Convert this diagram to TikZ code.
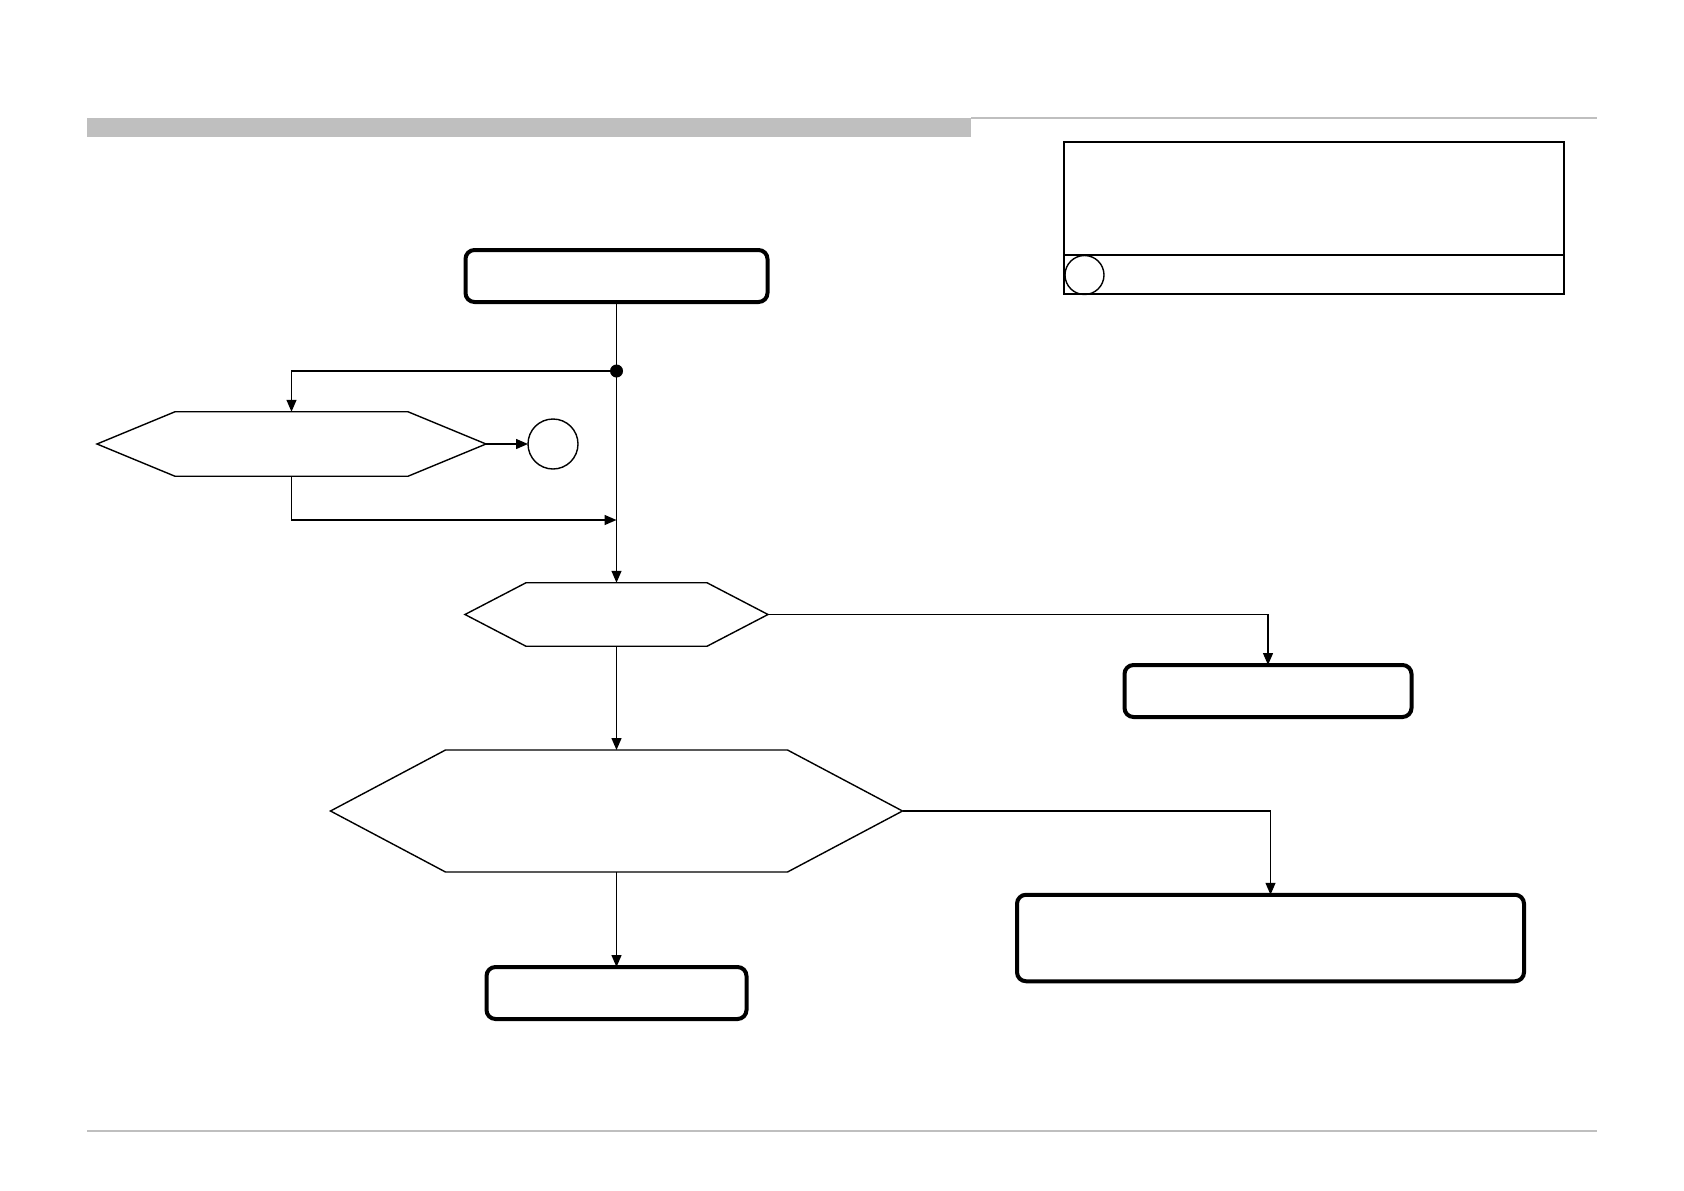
\documentclass[tikz,border=0pt]{standalone}
\usepackage{xcolor}
\usepackage{tikz}
\usetikzlibrary{arrows.meta,positioning,calc}

% outline of a pointed decision box, drawn over a plain node
\newcommand{\drawhex}[2]{%
  \draw[hexline] (#1.west) -- ($(#1.north west)+(#2,0)$) -- ($(#1.north east)+(-#2,0)$)
    -- (#1.east) -- ($(#1.south east)+(-#2,0)$) -- ($(#1.south west)+(#2,0)$) -- cycle;}

\begin{document}
\begin{tikzpicture}[
    x=1pt, y=-1pt,
    >={Triangle[length=12pt,width=10pt]},
    stepbox/.style={draw, line width=4pt, rounded corners=9pt, minimum width=#1, minimum height=52pt, inner sep=0pt, outer sep=0pt},
    stepbox/.default=300pt,
    hexbox/.style={minimum width=#1, inner sep=0pt, outer sep=0pt},
    hexline/.style={line width=1.4pt},
    flow/.style={->, line width=1.4pt},
    conn/.style={draw, circle, line width=1.4pt, minimum size=#1, inner sep=0pt, outer sep=0pt},
    rule/.style={gray!50, line width=#1}
  ]
    \useasboundingbox (0,0) rectangle (1684,1191);

    % page header and footer rules
    \fill[gray!50] (87,118) rectangle (971,137);
    \draw[rule=2pt] (971,118) -- (1597,118);
    \draw[rule=1.2pt] (87,1131) -- (1597,1131);

    % legend
    \node[draw, line width=2pt, minimum width=500pt, minimum height=152pt, inner sep=0pt, outer sep=0pt] (legend) at (1314,218) {};
    \draw[line width=2pt] ($(legend.south west)+(0,-39)$) -- ($(legend.south east)+(0,-39)$);
    \node[conn=39pt] (legdot) at (1084.5,275) {};

    % main flow
    \node[stepbox=302pt] (start) at (616.5,276) {};
    \node[hexbox=389pt, minimum height=64.5pt] (chk1) at (291.5,444) {};
    \node[conn=50pt] (con1) at (553,444) {};
    \node[hexbox=303pt, minimum height=63.5pt] (chk2) at (616.5,614.5) {};
    \node[hexbox=572pt, minimum height=122pt] (chk3) at (616.5,811) {};
    \node[stepbox=287pt] (res1) at (1268,691) {};
    \node[stepbox=507pt, minimum height=86.5pt] (res2) at (1270.5,938) {};
    \node[stepbox=260pt] (res3) at (616.5,993) {};

    \drawhex{chk1}{78}
    \drawhex{chk2}{61}
    \drawhex{chk3}{115}

    \coordinate (split) at (616.5,371);
    \coordinate (merge) at (616.5,520);

    \draw[flow] (start.south) -- (chk2.north);
    \draw[flow] (split) -| (chk1.north);
    \draw[flow] (chk1.south) |- (merge);
    \draw[flow] (chk1.east) -- (con1);
    \fill (split) circle (6.5pt);

    \foreach \a/\b in {chk2/chk3, chk3/res3}
      \draw[flow] (\a.south) -- (\b.north);
    \draw[flow] (chk2.east) -| (res1.north);
    \draw[flow] (chk3.east) -| (res2.north);
  \end{tikzpicture}
\end{document}
